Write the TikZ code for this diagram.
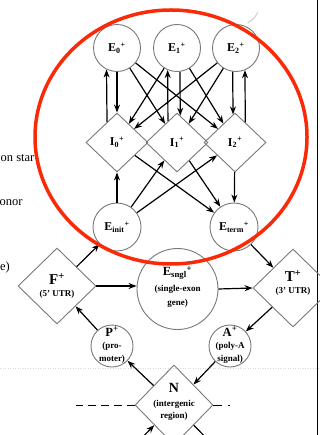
\documentclass[tikz,border=0pt]{standalone}
\usepackage{fontspec}
\setmainfont{Liberation Serif}
\usetikzlibrary{shapes.geometric,arrows.meta}
\definecolor{ngray}{RGB}{120,120,120}
\definecolor{rc}{RGB}{250,42,8}
\begin{document}
\begin{tikzpicture}[x=1pt,y=-1pt,
  circ/.style={circle, draw=ngray, line width=0.9pt, inner sep=0pt},
  dia/.style={diamond, draw=ngray, line width=0.9pt, inner sep=0pt},
  lab/.style={inner sep=0pt, align=center, font=\bfseries\fontsize{12}{13}\selectfont},
  labs/.style={inner sep=0pt, align=center, font=\bfseries\fontsize{9}{12.5}\selectfont},
  arr/.style={-{Stealth[length=8pt,width=6pt]}, line width=1.2pt, black},
  side/.style={anchor=base west, inner sep=0pt, font=\fontsize{12.5}{12.5}\selectfont}
]
\useasboundingbox (0,0) rectangle (320,435);
\clip (0,0) rectangle (320,435);

% faint scan line
\draw[gray!30, line width=0.5pt, dash pattern=on 1pt off 1.5pt] (0,368) -- (320,368);

% side texts
\node[side] (s1) at (0.5,162) {on star};
\node[side] (s2) at (-0.5,206) {onor};
\node[side] (s3) at (0,270) {e)};

% right rule
\draw[black, line width=1pt] (317,0) -- (317,435);

% top exons
\node[circ, minimum size=47pt] (E0) at (117,48) {};
\node[circ, minimum size=47pt] (E1) at (177,48) {};
\node[circ, minimum size=47pt] (E2) at (236,48) {};
\draw[gray!45, line width=0.8pt] (247.5,23) arc[start angle=-62, end angle=-25, radius=23.5pt];
\node[lab] (E0t) at (E0) {E\textsubscript{0}\textsuperscript{+}};
\node[lab] (E1t) at (E1) {E\textsubscript{1}\textsuperscript{+}};
\node[lab] (E2t) at (E2) {E\textsubscript{2}\textsuperscript{+}};

% introns
\node[dia, minimum width=62pt, minimum height=59pt] (I0) at (117,142.5) {};
\node[dia, minimum width=62pt, minimum height=59pt] (I1) at (177,142.5) {};
\node[dia, minimum width=62pt, minimum height=59pt] (I2) at (235,142.5) {};
\node[lab] (I0t) at (I0) {I\textsubscript{0}\textsuperscript{+}};
\node[lab] (I1t) at (I1) {I\textsubscript{1}\textsuperscript{+}};
\node[lab] (I2t) at (I2) {I\textsubscript{2}\textsuperscript{+}};

% init / term
\node[circ, minimum size=48pt] (Ei) at (117,227) {};
\node[circ, minimum size=48pt] (Et) at (234,227) {};
\node[lab] (Eit) at (Ei) {E\textsubscript{init}\textsuperscript{+}};
\node[lab] (Ett) at (Et) {E\textsubscript{term}\textsuperscript{+}};

% lower ring
\node[dia, minimum width=78pt, minimum height=76pt] (F) at (57,286) {};
\node[circ, minimum size=81pt] (S) at (177.5,289) {};
\node[dia, minimum width=80pt, minimum height=78pt] (T) at (293,288) {};
\node[circ, minimum size=42pt] (P) at (112,346) {};
\node[circ, minimum size=42pt] (A) at (230,346) {};
\node[dia, minimum width=78pt, minimum height=80pt] (N) at (174,405) {};

\node[labs] (Ft) at (57,286) {{\fontsize{15}{15}\selectfont F\textsuperscript{+}}\\[-1pt](5' UTR)};
\node[labs] (Tt) at (293,283) {{\fontsize{15}{15}\selectfont T\textsuperscript{+}}\\[-1pt](3' UTR)};
\node[labs] (St) at (177.5,287) {{\fontsize{12.5}{12.5}\selectfont E\textsubscript{sngl}\textsuperscript{+}}\\[3pt](single-exon\\[2pt]gene)};
\node[labs] (Pt) at (112,345) {{\fontsize{12.5}{12.5}\selectfont P\textsuperscript{+}}\\(pro-\\moter)};
\node[labs] (At) at (230,345) {{\fontsize{12.5}{12.5}\selectfont A\textsuperscript{+}}\\(poly-A\\signal)};
\node[labs] (Nt) at (174,402) {{\fontsize{14}{14}\selectfont N}\\[1pt](intergenic\\region)};

% vertical E <-> I
\draw[arr] (I0.116.6) -- (E0.244.8);
\draw[arr] (E0.south) -- (I0.north);
\draw[arr] (I1.113.3) -- (E1.247.5);
\draw[arr] (E1.277.3) -- (I1.83.6);
\draw[arr] (E2.262.7) -- (I2.94.1);
\draw[arr] (I2.63.4) -- (E2.292.5);

% cross E -> I
\draw[arr] (E0) -- (I1);
\draw[arr] (E0) -- (I2);
\draw[arr] (E1) -- (I0);
\draw[arr] (E1) -- (I2);
\draw[arr] (E2) -- (I0);
\draw[arr] (E2) -- (I1);

% init / term connections
\draw[arr] (Ei) -- (I0);
\draw[arr] (Ei) -- (I1);
\draw[arr] (Ei) -- (I2);
\draw[arr] (I0) -- (Et);
\draw[arr] (I1) -- (Et);
\draw[arr] (I2) -- (Et);

% ring
\draw[arr] (F) -- (Ei);
\draw[arr] (F.east) -- (F.east -| S.west);
\draw[arr] (S.east) -- (T.west);
\draw[arr] (Et) -- (T);
\draw[arr] (T) -- (A);
\draw[arr] (A) -- (N);
\draw[arr] (N) -- (P);
\draw[arr] (P) -- (F);

% below N
\coordinate (nb1) at (130,450);
\coordinate (nb2) at (218,450);
\draw[arr] (nb1) -- (N);
\draw[arr] (N) -- (nb2);

% dashed intergenic line
\coordinate (dl) at (76,405);
\coordinate (dr) at (232,405);
\draw[black, line width=1pt, dash pattern=on 8pt off 5pt] (N.west) -- (dl);
\draw[black, line width=1pt, dash pattern=on 9pt off 6pt on 1.5pt off 10pt] (N.east) -- (dr);

% red highlight
\draw[rc, line width=3.5pt] (171,137) ellipse [x radius=136pt, y radius=127pt];
\end{tikzpicture}
\end{document}
